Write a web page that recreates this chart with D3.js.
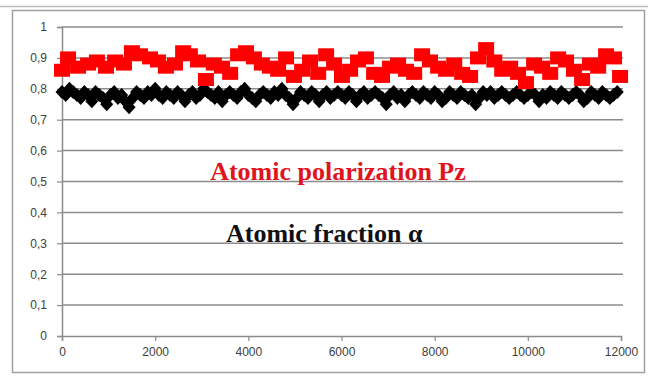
<!DOCTYPE html>
<html>
<head>
<meta charset="utf-8">
<script src="https://cdn.jsdelivr.net/npm/d3@7"></script>
<style>
  body { margin: 0; background: #fff; }
  svg { display: block; }
</style>
</head>
<body>
<svg id="chart"></svg>
<script>
// red squares: atomic polarization Pz
const polX = [0, 130, 345, 560, 750, 945, 1140, 1330, 1500, 1675, 1890, 2060, 2230, 2425, 2600, 2745,
  2920, 3090, 3260, 3435, 3610, 3780, 3950, 4120, 4290, 4465, 4640, 4810, 4980, 5155, 5325, 5500,
  5670, 5840, 6010, 6185, 6355, 6525, 6700, 6870, 7040, 7215, 7385, 7560, 7730, 7900, 8075, 8245,
  8420, 8590, 8760, 8930, 9105, 9280, 9450, 9620, 9790, 9960, 10135, 10305, 10480, 10650, 10820,
  10990, 11165, 11335, 11510, 11680, 11850, 11980];
const polY = [0.86, 0.90, 0.87, 0.88, 0.89, 0.87, 0.89, 0.88, 0.92, 0.91, 0.90, 0.89, 0.87, 0.88, 0.92, 0.91,
  0.89, 0.83, 0.88, 0.87, 0.85, 0.91, 0.92, 0.90, 0.88, 0.87, 0.86, 0.90, 0.84, 0.86, 0.89, 0.85,
  0.91, 0.88, 0.84, 0.86, 0.89, 0.90, 0.85, 0.84, 0.87, 0.88, 0.86, 0.85, 0.91, 0.89, 0.87, 0.86,
  0.88, 0.85, 0.84, 0.90, 0.93, 0.89, 0.86, 0.87, 0.85, 0.82, 0.88, 0.87, 0.85, 0.90, 0.89,
  0.86, 0.83, 0.88, 0.87, 0.91, 0.90, 0.84];

// black diamonds: atomic fraction alpha
const fracY = [0.79, 0.78, 0.80, 0.79, 0.78, 0.77, 0.79, 0.78, 0.76, 0.79, 0.78, 0.77, 0.75, 0.78, 0.79, 0.77,
  0.78, 0.76, 0.74, 0.77, 0.79, 0.78, 0.77, 0.79, 0.78, 0.80, 0.78, 0.77, 0.79, 0.78, 0.77, 0.79,
  0.78, 0.76, 0.78, 0.79, 0.77, 0.78, 0.80, 0.79, 0.78, 0.77, 0.79, 0.76, 0.78, 0.79, 0.78, 0.77,
  0.79, 0.80, 0.78, 0.77, 0.76, 0.78, 0.79, 0.78, 0.77, 0.79, 0.78, 0.80, 0.78, 0.77, 0.75, 0.77,
  0.79, 0.78, 0.77, 0.79, 0.78, 0.76, 0.78, 0.79, 0.77, 0.78, 0.79, 0.78, 0.77, 0.79, 0.78, 0.76,
  0.78, 0.79, 0.77, 0.78, 0.79, 0.78, 0.77, 0.75, 0.78, 0.79, 0.77, 0.78, 0.76, 0.78, 0.79, 0.78,
  0.77, 0.79, 0.78, 0.77, 0.79, 0.78, 0.76, 0.77, 0.79, 0.78, 0.77, 0.79, 0.78, 0.77, 0.78, 0.75,
  0.77, 0.79, 0.78, 0.79, 0.77, 0.78, 0.79, 0.78, 0.77, 0.78, 0.79, 0.78, 0.77, 0.78, 0.79, 0.78,
  0.76, 0.78, 0.77, 0.79, 0.78, 0.77, 0.79, 0.78, 0.77, 0.78, 0.79, 0.78, 0.76, 0.77, 0.79, 0.78,
  0.77, 0.79, 0.78, 0.77, 0.78, 0.79];
const fracStep = 80;

const yTicks = [0, 0.1, 0.2, 0.3, 0.4, 0.5, 0.6, 0.7, 0.8, 0.9, 1];
const xTicks = [0, 2000, 4000, 6000, 8000, 10000, 12000];

const labelPol = "Atomic polarization Pz";
const labelFrac = "Atomic fraction \u03b1";

const width = 648, height = 376;
const svg = d3.select("#chart").attr("width", width).attr("height", height);

const x = d3.scaleLinear().domain([0, 12000]).range([62, 621]);
const y = d3.scaleLinear().domain([0, 1]).range([336, 27]);

// frame
svg.append("line").attr("x1", 0).attr("x2", width).attr("y1", 6.5).attr("y2", 6.5)
  .attr("stroke", "#bbb").attr("stroke-width", 1.5);
svg.append("rect").attr("x", 12.5).attr("y", 10.5).attr("width", 632).attr("height", 362)
  .attr("fill", "none").attr("stroke", "#a0a0a0").attr("stroke-width", 1.5);

// gridlines
svg.append("g").selectAll("line")
  .data(yTicks.filter(d => d > 0))
  .enter().append("line")
  .attr("x1", x(0)).attr("x2", x(12000) + 2)
  .attr("y1", d => y(d)).attr("y2", d => y(d))
  .attr("stroke", "#8c8c8c").attr("stroke-width", 1.5);

// y axis
const yAxis = svg.append("g").attr("transform", `translate(${x(0)},0)`)
  .call(d3.axisLeft(y).tickValues(yTicks).tickSize(5).tickPadding(10)
    .tickFormat(d => d3.format("")(+d.toFixed(1)).replace(".", ",")));
// x axis
const xAxis = svg.append("g").attr("transform", `translate(0,${y(0)})`)
  .call(d3.axisBottom(x).tickValues(xTicks).tickSize(5).tickPadding(6).tickFormat(d3.format("")));

[yAxis, xAxis].forEach(a => {
  a.select(".domain").attr("stroke", "#8c8c8c").attr("stroke-width", 1.5);
  a.selectAll(".tick line").attr("stroke", "#8c8c8c").attr("stroke-width", 1.2);
  a.selectAll("text").attr("fill", "#404040")
    .style("font-family", "'Liberation Sans', Arial, sans-serif").style("font-size", "12px");
});

// black diamonds
const diamond = "M0,-7L6.5,0L0,7L-6.5,0Z";
const fracData = fracY.map((v, i) => [i * fracStep, v]);
svg.append("g").selectAll("path")
  .data(fracData)
  .enter().append("path")
  .attr("d", diamond)
  .attr("transform", d => `translate(${x(d[0])},${y(d[1])})`)
  .attr("fill", "#000");

// red squares
const polData = polX.map((d, i) => [d, polY[i]]);
svg.append("g").selectAll("rect")
  .data(polData)
  .enter().append("rect")
  .attr("x", d => x(d[0]) - 8).attr("y", d => y(d[1]) - 6.5)
  .attr("width", 16).attr("height", 13)
  .attr("fill", "#ff0000");

// labels
svg.append("text").attr("x", 338).attr("y", 180).attr("text-anchor", "middle")
  .attr("fill", "#e0141c").style("font-family", "'Liberation Serif', 'Times New Roman', serif")
  .style("font-weight", "bold").style("font-size", "26px").text(labelPol);
svg.append("text").attr("x", 226).attr("y", 242)
  .attr("fill", "#111").style("font-family", "'Liberation Serif', 'Times New Roman', serif")
  .style("font-weight", "bold").style("font-size", "26px").text(labelFrac);
</script>
</body>
</html>
